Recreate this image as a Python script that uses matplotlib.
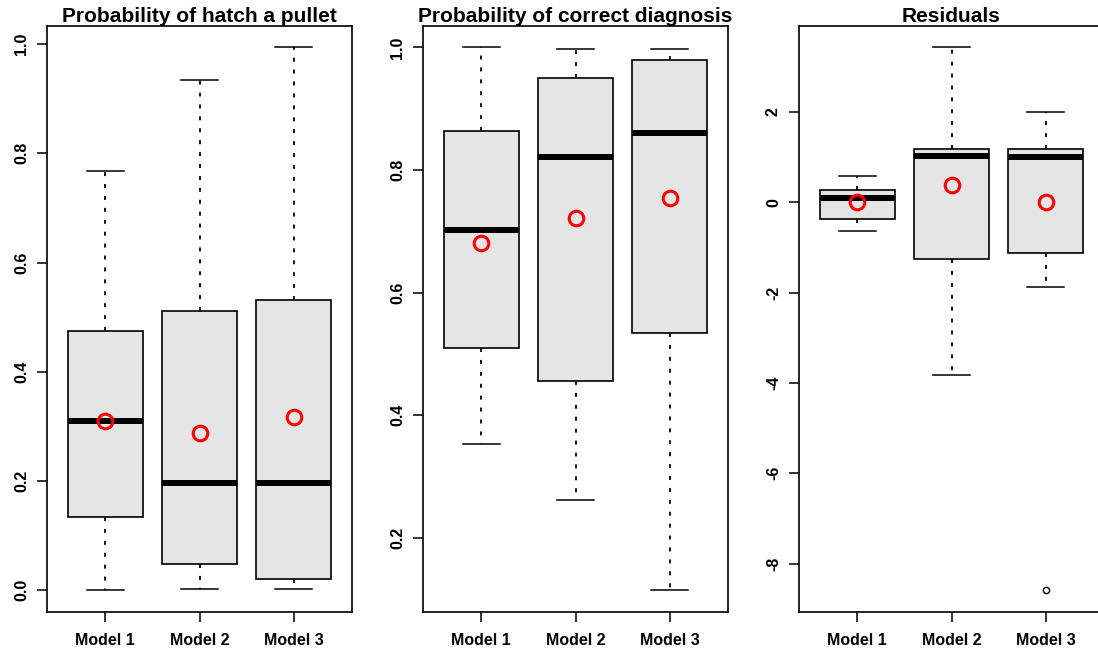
import matplotlib
matplotlib.use("Agg")
import matplotlib.pyplot as plt

plt.rcParams["font.family"] = ["Liberation Sans", "DejaVu Sans"]
plt.rcParams["font.weight"] = "bold"
plt.rcParams["axes.unicode_minus"] = False

models = ["Model 1", "Model 2", "Model 3"]

# probability of hatch a pullet
hatch_lo = [0.0, 0.002, 0.002]
hatch_q1 = [0.135, 0.048, 0.020]
hatch_med = [0.310, 0.196, 0.197]
hatch_q3 = [0.474, 0.511, 0.532]
hatch_hi = [0.768, 0.934, 0.994]
hatch_mean = [0.310, 0.288, 0.317]
hatch_out = [[], [], []]

# probability of correct diagnosis
diag_lo = [0.353, 0.261, 0.114]
diag_q1 = [0.510, 0.455, 0.534]
diag_med = [0.702, 0.821, 0.860]
diag_q3 = [0.863, 0.950, 0.980]
diag_hi = [1.000, 0.997, 0.998]
diag_mean = [0.681, 0.721, 0.754]
diag_out = [[], [], []]

# residuals
res_lo = [-0.64, -3.82, -1.88]
res_q1 = [-0.37, -1.25, -1.12]
res_med = [0.10, 1.03, 1.00]
res_q3 = [0.276, 1.19, 1.17]
res_hi = [0.58, 3.43, 2.0]
res_mean = [0.0, 0.377, 0.0]
res_out = [[], [], [-8.59]]

panels = [
    ("Probability of hatch a pullet", hatch_lo, hatch_q1, hatch_med, hatch_q3,
     hatch_hi, hatch_mean, hatch_out, [0.0, 0.2, 0.4, 0.6, 0.8, 1.0], "%.1f"),
    ("Probability of correct diagnosis", diag_lo, diag_q1, diag_med, diag_q3,
     diag_hi, diag_mean, diag_out, [0.2, 0.4, 0.6, 0.8, 1.0], "%.1f"),
    ("Residuals", res_lo, res_q1, res_med, res_q3, res_hi, res_mean, res_out,
     [-8, -6, -4, -2, 0, 2], "%d"),
]

W, H = 1098, 655
fig = plt.figure(figsize=(W / 100, H / 100), dpi=100)

lefts = [47, 423, 799]
pw = 305
top_px, bot_px = 25.7, 612

for left, (title, lo, q1, med, q3, hi, mean, out, yt, fmt) in zip(lefts, panels):
    ax = fig.add_axes([left / W, 1 - bot_px / H, pw / W, (bot_px - top_px) / H])
    stats = []
    for i in range(3):
        stats.append({"whislo": lo[i], "q1": q1[i], "med": med[i],
                      "q3": q3[i], "whishi": hi[i], "fliers": out[i]})
    pos = [1, 2, 3]
    ax.bxp(stats, positions=pos, widths=0.8, capwidths=0.4,
           patch_artist=True, showfliers=True,
           boxprops=dict(facecolor="#e5e5e5", edgecolor="black", linewidth=1.2),
           whiskerprops=dict(color="black", linestyle=(0, (2.2, 4.4)), linewidth=1.3),
           capprops=dict(color="black", linewidth=1.1),
           medianprops=dict(color="black", linewidth=4.3, solid_capstyle="butt"),
           flierprops=dict(marker="o", markersize=4.5, markerfacecolor="none",
                           markeredgecolor="black", markeredgewidth=1.0))
    ax.plot(pos, mean, "o", mfc="none", mec="red", ms=10.5, mew=2.2, zorder=5)

    # R style axis range: 4% padding
    vals = lo + hi + mean + [v for o in out for v in o]
    vmin, vmax = min(vals), max(vals)
    pad = 0.04 * (vmax - vmin)
    ax.set_ylim(vmin - pad, vmax + pad)
    ax.set_xlim(0.38, 3.62)

    ax.set_xticks(pos)
    ax.set_xticklabels(models, fontsize=11.5, fontweight="bold")
    ax.set_yticks(yt)
    ax.set_yticklabels([fmt % v for v in yt], fontsize=11.5, fontweight="bold",
                       rotation=90, va="center")
    ax.tick_params(axis="both", length=7, width=1.1, direction="out")
    ax.tick_params(axis="x", pad=8)
    ax.tick_params(axis="y", pad=6)
    for s in ax.spines.values():
        s.set_linewidth(1.2)
    ax.set_title(title, fontsize=15, fontweight="bold", pad=2)

fig.savefig("out.png", dpi=100)
